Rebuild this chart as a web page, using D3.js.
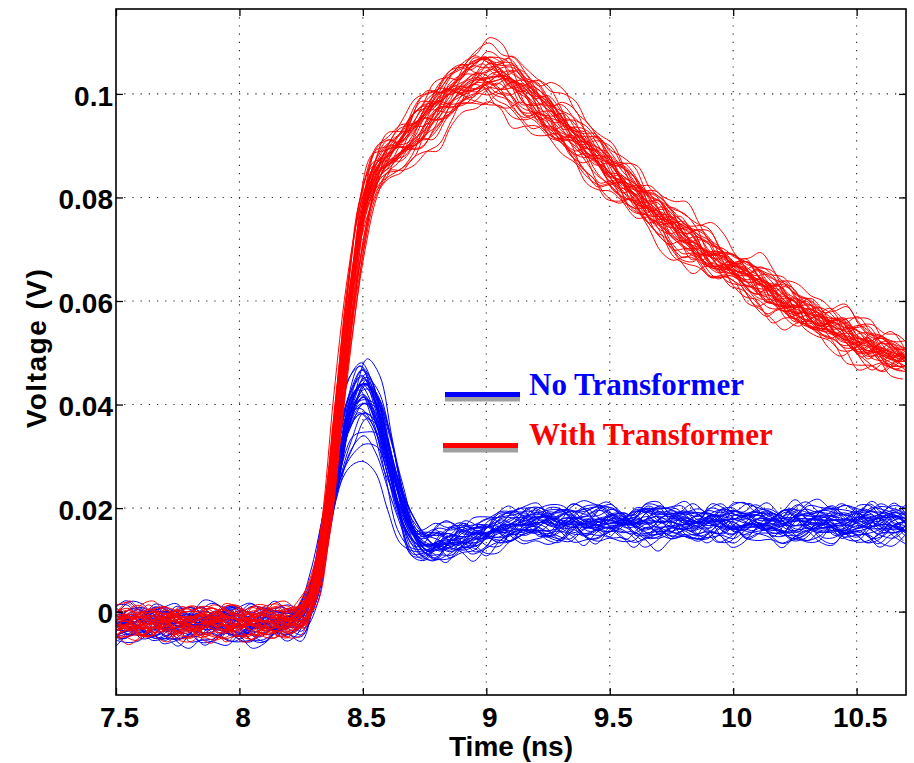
<!DOCTYPE html>
<html><head><meta charset="utf-8">
<script src="https://cdn.jsdelivr.net/npm/d3@7"></script>
<style>body{margin:0;background:#fff}svg{display:block}</style>
</head><body><svg id="c" width="914" height="763"></svg>
<script>
// time grid (ns), 0.05 ns step from 7.5 to 10.7
const times = d3.range(65).map(i => +(7.5 + i * 0.05).toFixed(2));

// mean waveform: No Transformer (blue)
const blueBase = [
  -0.0025,-0.0024,-0.0022,-0.0023,-0.0025,-0.0024,-0.0026,-0.0025,-0.0024,-0.0023,
  -0.0025,-0.0026,-0.0024,-0.0023,-0.0022,-0.0012,0.0045,0.0160,0.0288,0.0385,
  0.0422,0.0388,0.0300,0.0210,0.0148,0.0125,0.0128,0.0135,0.0140,0.0143,
  0.0150,0.0158,0.0164,0.0168,0.0170,0.0170,0.0169,0.0171,0.0168,0.0170,
  0.0172,0.0169,0.0168,0.0170,0.0171,0.0169,0.0170,0.0168,0.0171,0.0170,
  0.0169,0.0170,0.0172,0.0169,0.0168,0.0170,0.0171,0.0169,0.0170,0.0168,
  0.0170,0.0171,0.0169,0.0170,0.0168];
// where the blue peak height varies
const bluePeakShape = [
  0,0,0,0,0,0,0,0,0,0, 0,0,0,0,0,0,0.03,0.15,0.5,0.85,
  1.0,0.9,0.65,0.38,0.14,0.04,0,0,0,0, 0,0,0,0,0,0,0,0,0,0,
  0,0,0,0,0,0,0,0,0,0, 0,0,0,0,0,0,0,0,0,0, 0,0,0,0,0];

// mean waveform: With Transformer (red)
const redBase = [
  -0.0022,-0.0021,-0.0023,-0.0022,-0.0020,-0.0021,-0.0022,-0.0023,-0.0021,-0.0020,
  -0.0022,-0.0021,-0.0020,-0.0019,-0.0018,-0.0008,0.0040,0.0165,0.0385,0.0600,
  0.0765,0.0845,0.0875,0.0895,0.0920,0.0948,0.0972,0.0993,0.1012,0.1028,
  0.1035,0.1030,0.1017,0.0998,0.0980,0.0960,0.0940,0.0918,0.0895,0.0872,
  0.0850,0.0828,0.0806,0.0784,0.0763,0.0742,0.0723,0.0705,0.0689,0.0674,
  0.0660,0.0645,0.0631,0.0616,0.0601,0.0587,0.0573,0.0560,0.0548,0.0536,
  0.0524,0.0513,0.0503,0.0494,0.0486];

// per-trace spread
const bluePk = [0.0010,-0.0020,0.0025,-0.0100,0.0005,0.0030,-0.0010,0.0015,-0.0065,0.0020,
  -0.0005,0.0040,-0.0030,0.0008,0.0018,-0.0080,0.0022,-0.0015,0.0012,0.0035,
  -0.0045,0.0003,0.0027,-0.0008,0.0016,-0.0055,0.0045,-0.0025,0.0010,0.0020,
  -0.0012,0.0030,-0.0070,0.0006,-0.0002,0.0024,-0.0035,0.0014,0.0038,-0.0018];
const blueLv = [0.0012,-0.0018,0.0006,-0.0024,0.0021,-0.0006,0.0000,0.0014,-0.0012,0.0024,
  -0.0021,0.0010,0.0004,-0.0010,0.0018,-0.0014,0.0007,-0.0002,0.0013,-0.0019,
  0.0023,-0.0007,0.0002,0.0017,-0.0013,0.0008,-0.0023,0.0011,-0.0004,0.0019,
  -0.0011,0.0005,0.0016,-0.0017,0.0001,0.0020,-0.0008,0.0012,-0.0005,0.0007];
const blueDt = [0.005,-0.010,0.012,0.000,-0.004,0.015,-0.012,0.008,0.010,-0.006,
  0.002,0.018,-0.015,0.006,-0.002,0.004,0.011,-0.008,0.014,-0.003,
  0.007,-0.011,0.009,0.001,-0.014,0.013,-0.005,0.003,0.016,-0.009,
  0.006,-0.001,0.012,-0.007,0.010,-0.013,0.004,0.008,-0.004,0.002];

const redG = [0.02,-0.03,0.01,0.04,-0.01,0.00,-0.04,0.03,0.015,-0.02,
  0.035,-0.015,0.005,-0.035,0.025,-0.005,0.045,-0.025,0.012,-0.045,
  0.028,-0.008,0.018,-0.028,0.038,-0.012,0.008,-0.038,0.022,0.002,
  -0.018,0.032,-0.032,0.014,-0.022,0.042,-0.002,0.026,-0.042,0.006];
const redLv = [-0.0009,0.0014,0.0003,-0.0016,0.0010,-0.0004,0.0017,-0.0012,0.0007,0.0000,
  -0.0015,0.0011,-0.0007,0.0016,-0.0002,0.0008,-0.0017,0.0004,0.0012,-0.0010,
  0.0002,-0.0013,0.0015,-0.0005,0.0009,-0.0011,0.0005,0.0013,-0.0003,-0.0008,
  0.0011,-0.0016,0.0001,0.0010,-0.0012,0.0007,-0.0001,0.0015,-0.0009,0.0003];
const redDt = [-0.008,0.010,0.002,-0.014,0.015,0.005,-0.003,0.012,-0.010,0.007,
  0.000,-0.016,0.013,-0.006,0.009,0.003,-0.012,0.018,-0.001,0.006,
  -0.009,0.011,0.004,-0.015,0.014,-0.004,0.008,-0.011,0.001,0.016,
  -0.007,0.010,-0.002,0.005,-0.013,0.012,-0.005,0.003,0.009,-0.018];

// measurement ripple pattern (normalised), typical wiggle of the traces
const ripple = [0.3,0.6,0.2,-0.4,-0.8,-0.5,0.1,0.7,0.9,0.4,-0.2,-0.6,-0.3,0.3,0.8,0.5,-0.1,-0.7,-1.0,-0.4,
  0.2,0.6,0.3,-0.2,-0.5,0.1,0.8,1.0,0.5,-0.3,-0.8,-0.6,0.0,0.5,0.2,-0.4,-0.9,-0.5,0.2,0.7,
  0.4,-0.1,-0.6,-0.2,0.4,0.9,0.6,0.0,-0.5,-0.8,-0.3,0.3,0.1,-0.4,-0.7,-0.2,0.5,0.9,0.6,0.1,
  -0.4,-0.9,-0.7,-0.1,0.4,0.7,0.2,-0.3,-0.6,-0.1,0.6,0.8,0.3,-0.5,-1.0,-0.6,0.1,0.5,0.3,-0.2,
  -0.7,-0.4,0.3,0.8,0.6,-0.1,-0.5,-0.2,0.4,0.9,0.5,-0.2,-0.8,-0.5,0.0,0.6,0.4];
const blueRippleAmp = 0.0027, redRippleAmp = 0.0030;

const xTicks = [7.5,8,8.5,9,9.5,10,10.5];
const xTickLabels = ["7.5","8","8.5","9","9.5","10","10.5"];
const yTicks = [0,0.02,0.04,0.06,0.08,0.1];
const yTickLabels = ["0","0.02","0.04","0.06","0.08","0.1"];
const legendLabels = ["No Transformer","With Transformer"];
const colors = ["#0000ff","#ff0000"];

const svg = d3.select("#c");
const L = 116, R = 906, T = 9, B = 695;
const x = d3.scaleLinear().domain([7.5,10.7]).range([L,R]);
const y = d3.scaleLinear().domain([-0.0161,0.1164]).range([B,T]);

svg.append("rect").attr("width",914).attr("height",763).attr("fill","#fff");
svg.append("clipPath").attr("id","clip").append("rect")
  .attr("x",L).attr("y",T).attr("width",R-L).attr("height",B-T);

// grid
const grid = svg.append("g").attr("stroke","#222").attr("stroke-width",1.1).attr("stroke-dasharray","1.2,7");
grid.selectAll(".gx").data(xTicks.slice(1)).join("line")
  .attr("x1",d=>x(d)).attr("x2",d=>x(d)).attr("y1",T).attr("y2",B);
grid.selectAll(".gy").data(yTicks).join("line")
  .attr("y1",d=>y(d)).attr("y2",d=>y(d)).attr("x1",L).attr("x2",R);

// traces
const line = d3.line().x(d=>x(d[0])).y(d=>y(d[1])).curve(d3.curveCatmullRom.alpha(0.5));
const RL = ripple.length;
function rip(k, j, seed){
  const a = (k*31 + seed) % RL, b = (k*17 + 3*seed + 11) % RL;
  const dir = (k % 2) ? 1 : RL - 1;
  return 0.7*ripple[(a + j) % RL] + 0.45*ripple[(b + dir*2*j) % RL];
}
function bluePts(k){
  return times.map((t,j)=>[t + blueDt[k],
    blueBase[j] + bluePk[k]*bluePeakShape[j] + blueLv[k] + blueRippleAmp*rip(k,j,0)]);
}
function redPts(k){
  return times.map((t,j)=>[t + redDt[k],
    redBase[j]*(1+redG[k]) + redLv[k] + redRippleAmp*rip(k,j,41)]);
}
const plot = svg.append("g").attr("clip-path","url(#clip)").attr("fill","none").attr("stroke-width",1);
plot.append("g").attr("stroke",colors[0]).selectAll("path")
  .data(d3.range(bluePk.length).map(bluePts)).join("path").attr("d",line);
plot.append("g").attr("stroke",colors[1]).selectAll("path")
  .data(d3.range(redG.length).map(redPts)).join("path").attr("d",line);

// axes
const fontTick = "'Liberation Sans', Arial, Helvetica, sans-serif";
const xa = svg.append("g").attr("transform",`translate(0,${B})`)
  .call(d3.axisBottom(x).tickValues(xTicks).tickFormat((d,i)=>xTickLabels[i]).tickSizeInner(-7).tickSizeOuter(0));
xa.selectAll("text").attr("y",32).attr("dy",0).attr("dx",3)
  .attr("font-size",28).attr("font-weight","bold").attr("font-family",fontTick).attr("fill","#000");
svg.append("g").attr("transform",`translate(0,${T})`)
  .call(d3.axisTop(x).tickValues(xTicks).tickFormat("").tickSizeInner(-7).tickSizeOuter(0));
const ya = svg.append("g").attr("transform",`translate(${L},0)`)
  .call(d3.axisLeft(y).tickValues(yTicks).tickFormat((d,i)=>yTickLabels[i]).tickSizeInner(-7).tickSizeOuter(0));
ya.selectAll("text").attr("x",-3).attr("dy","0.4em")
  .attr("font-size",28).attr("font-weight","bold").attr("font-family",fontTick).attr("fill","#000");
svg.append("g").attr("transform",`translate(${R},0)`)
  .call(d3.axisRight(y).tickValues(yTicks).tickFormat("").tickSizeInner(-7).tickSizeOuter(0));
svg.selectAll(".domain").remove();
svg.selectAll(".tick line").attr("stroke","#000").attr("stroke-width",1.3);
svg.append("rect").attr("x",L).attr("y",T).attr("width",R-L).attr("height",B-T)
  .attr("fill","none").attr("stroke","#000").attr("stroke-width",1.6);

// axis titles
svg.append("text").attr("x",511).attr("y",756).attr("text-anchor","middle")
  .attr("font-family",fontTick).attr("font-weight","bold").attr("font-size",28).text("Time (ns)");
svg.append("text").attr("transform","translate(46,348) rotate(-90)").attr("text-anchor","middle")
  .attr("font-family",fontTick).attr("font-weight","bold").attr("font-size",28)
  .attr("letter-spacing",1.5).text("Voltage (V)");

// legend
const leg = [{lx:445, ly:392, ty:395}, {lx:443, ly:443, ty:445}];
leg.forEach((p,i)=>{
  svg.append("rect").attr("x",p.lx).attr("y",p.ly+5).attr("width",75).attr("height",4.5).attr("fill","#a0a0a0");
  svg.append("rect").attr("x",p.lx).attr("y",p.ly).attr("width",75).attr("height",5).attr("fill",colors[i]);
  svg.append("text").attr("x",529).attr("y",p.ty)
    .attr("font-family","'Liberation Serif','Times New Roman',serif").attr("font-weight","bold")
    .attr("font-size",31).attr("fill",colors[i]).text(legendLabels[i]);
});
</script></body></html>
